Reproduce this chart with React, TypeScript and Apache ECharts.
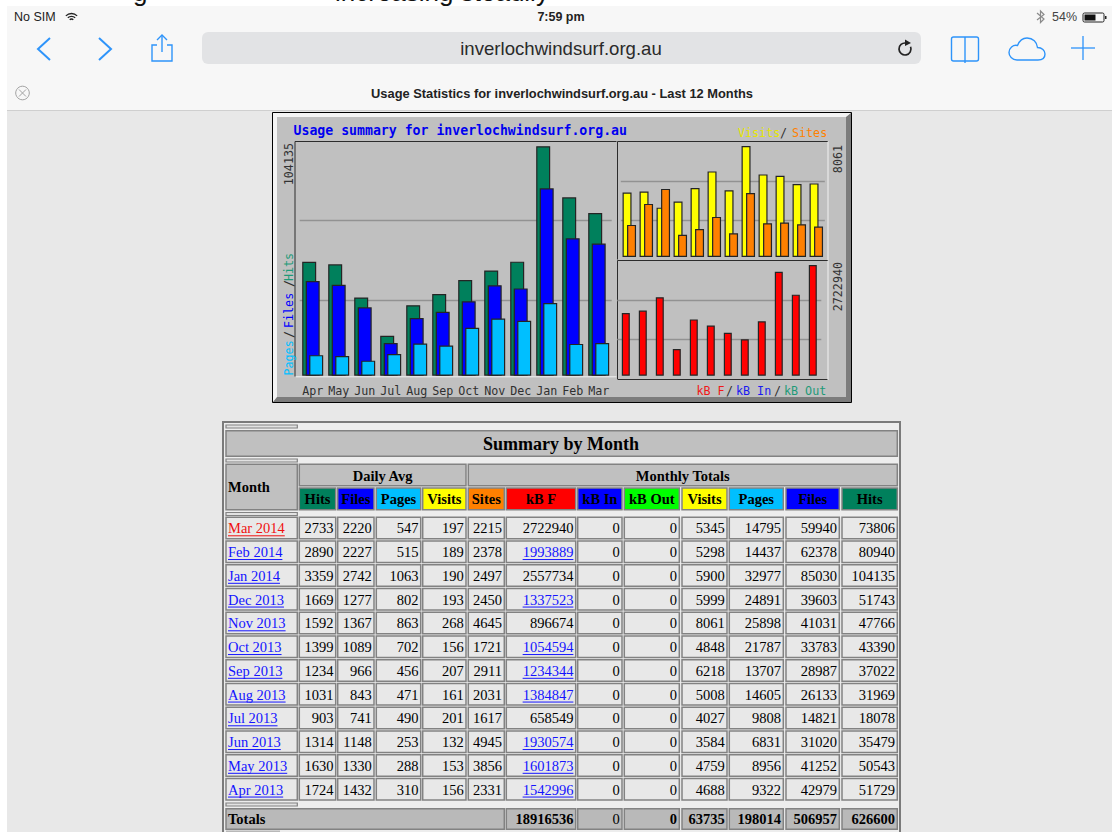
import React, { useEffect, useRef } from "react";
import * as echarts from "echarts";

// Table rows, newest first, as listed in the reference
const monthNames = ["Mar 2014","Feb 2014","Jan 2014","Dec 2013","Nov 2013","Oct 2013","Sep 2013","Aug 2013","Jul 2013","Jun 2013","May 2013","Apr 2013"];
const dailyHits = [2733,2890,3359,1669,1592,1399,1234,1031,903,1314,1630,1724];
const dailyFiles = [2220,2227,2742,1277,1367,1089,966,843,741,1148,1330,1432];
const dailyPages = [547,515,1063,802,863,702,456,471,490,253,288,310];
const dailyVisits = [197,189,190,193,268,156,207,161,201,132,153,156];
const sites = [2215,2378,2497,2450,4645,1721,2911,2031,1617,4945,3856,2331];
const kbF = [2722940,1993889,2557734,1337523,896674,1054594,1234344,1384847,658549,1930574,1601873,1542996];
const kbFLinked = [false,true,false,true,false,true,true,true,false,true,true,true];
const kbIn = [0,0,0,0,0,0,0,0,0,0,0,0];
const kbOut = [0,0,0,0,0,0,0,0,0,0,0,0];
const visits = [5345,5298,5900,5999,8061,4848,6218,5008,4027,3584,4759,4688];
const pages = [14795,14437,32977,24891,25898,21787,13707,14605,9808,6831,8956,9322];
const files = [59940,62378,85030,39603,41031,33783,28987,26133,14821,31020,41252,42979];
const hits = [73806,80940,104135,51743,47766,43390,37022,31969,18078,35479,50543,51729];
const totals = [18916536,0,0,63735,198014,506957,626600];
const chartMonths = ["Apr","May","Jun","Jul","Aug","Sep","Oct","Nov","Dec","Jan","Feb","Mar"];

const C = {
  hits: "#00805C", files: "#0000FF", pages: "#00BFFF", visits: "#FFFF00", sites: "#FF8000",
  kbf: "#FF0000", kbin: "#0000FF", kbout: "#00FF00", panel: "#C0C0C0", page: "#E8E8E8",
  bar: "#242424", grid: "#929292", ios: "#2E94FA", link: "#1414FF",
};
const MONO = "'DejaVu Sans Mono', 'Liberation Mono', monospace";
const SANS = "'Liberation Sans', Arial, sans-serif";
const SERIF = "'Liberation Serif', 'Times New Roman', serif";

echarts.graphic.registerShape("cloud", echarts.graphic.extendPath("M8 22 C3 22 0 18 0 14.5 C0 10 4 6.5 8.5 7.5 C10.5 2.5 14 0 18 0 C24 0 28 4 28.5 9.5 C33 9.5 36 12.5 36 16 C36 20 33 22 29 22 Z", {}));

const measure = (() => {
  const ctx = document.createElement("canvas").getContext("2d")!;
  return (s: string, font: string) => { ctx.font = font; return ctx.measureText(s).width; };
})();

const txt = (text: string, x: number, y: number, font: string, fill: string, align = "left", extra: any = {}) => ({
  type: "text", x, y, z: 6, silent: true, ...extra,
  style: { text, font, fill, align, verticalAlign: "middle" },
});
const rect = (x: number, y: number, w: number, h: number, fill: string, stroke?: string, lineWidth = 0, r = 0, z = 0) => ({
  type: "rect", z, silent: true, shape: { x, y, width: w, height: h, r },
  style: { fill, stroke: stroke || undefined, lineWidth },
});
const line = (x1: number, y1: number, x2: number, y2: number, stroke: string, lineWidth = 1, z = 0) => ({
  type: "line", z, silent: true, shape: { x1, y1, x2, y2 }, style: { stroke, lineWidth },
});
const poly = (points: number[][], stroke: string, lineWidth = 1.5, z = 1) => ({
  type: "polyline", z, silent: true, shape: { points }, style: { stroke, lineWidth, fill: "none" },
});
const polygon = (points: number[][], fill: string, z = 0) => ({
  type: "polygon", z, silent: true, shape: { points }, style: { fill },
});
const arc = (cx: number, cy: number, r: number, s: number, e: number, stroke: string, lineWidth: number) => ({
  type: "arc", z: 1, silent: true, shape: { cx, cy, r, startAngle: s, endAngle: e, clockwise: true },
  style: { stroke, lineWidth, fill: "none" },
});

function chromeElements(): any[] {
  const f12 = `12.5px ${SANS}`;
  const ink = "#222";
  return [
    txt("g", 133, -8, `26px ${SANS}`, "#111"),
    txt("increasing steadily", 335, -8, `26px ${SANS}`, "#111"),
    rect(7, 6, 1105, 105, "#F7F7F7"),
    rect(7, 111, 1105, 721, C.page),
    line(7, 110.5, 1112, 110.5, "#CFCFCF", 1),
    txt("No SIM", 14, 17, f12, ink),
    arc(71.5, 21.5, 2.5, -Math.PI * 0.75, -Math.PI * 0.25, ink, 1.3),
    arc(71.5, 21.5, 5.2, -Math.PI * 0.75, -Math.PI * 0.25, ink, 1.3),
    arc(71.5, 21.5, 8, -Math.PI * 0.75, -Math.PI * 0.25, ink, 1.3),
    txt("7:59 pm", 561, 17, `bold 12.5px ${SANS}`, ink, "center"),
    poly([[1037, 13], [1044, 19], [1040.5, 22.5], [1040.5, 11], [1044, 14.5], [1037, 20]], "#8A8A8A", 1.2),
    txt("54%", 1052, 17, f12, "#444"),
    rect(1083, 13, 21, 9, "none", "#222", 1, 1.5, 1),
    rect(1084.5, 14.5, 11, 6, "#111", undefined, 0, 0, 1),
    rect(1105, 16, 1.5, 3, "#222", undefined, 0, 0, 1),
    poly([[50, 38], [38, 49], [50, 60]], C.ios, 2),
    poly([[99, 38], [111, 49], [99, 60]], C.ios, 2),
    poly([[157, 45], [152, 45], [152, 61], [172, 61], [172, 45], [167, 45]], C.ios, 1.4),
    line(162, 36, 162, 52, C.ios, 1.4, 1),
    poly([[157, 40], [162, 35], [167, 40]], C.ios, 1.4),
    rect(202, 32, 719, 32, "#E2E3E5", undefined, 0, 6),
    txt("inverlochwindsurf.org.au", 561, 48, `18.6px ${SANS}`, "#2A2A2A", "center"),
    arc(905, 49, 6, -Math.PI * 0.12, Math.PI * 1.55, "#222", 1.7),
    polygon([[905, 39.5], [911, 43], [905, 46]], "#222", 1),
    rect(951.5, 37, 27, 24, "none", C.ios, 1.4, 2, 1),
    line(965, 37, 965, 63, C.ios, 1.4, 1),
    { type: "cloud", x: 1009, y: 38, z: 1, silent: true, style: { fill: "none", stroke: C.ios, lineWidth: 1.4 } },
    line(1071, 48, 1095, 48, C.ios, 1.3, 1),
    line(1083, 36, 1083, 60, C.ios, 1.3, 1),
    { type: "circle", z: 1, silent: true, shape: { cx: 22.5, cy: 93, r: 6.8 }, style: { fill: "none", stroke: "#A2A2A2", lineWidth: 1 } },
    line(19, 89.5, 26, 96.5, "#A2A2A2", 1, 1),
    line(26, 89.5, 19, 96.5, "#A2A2A2", 1, 1),
    txt("Usage Statistics for inverlochwindsurf.org.au - Last 12 Months", 562, 93, `bold 12.85px ${SANS}`, "#222", "center"),
  ];
}

function panelElements(): any[] {
  const f = `11.7px ${MONO}`;
  const rot = { rotation: Math.PI / 2 };
  const slash = "#303030";
  const vertical = (text: string, y: number, fill: string, align = "left") => txt(text, 289, y, f, fill, align, rot);
  return [
    rect(272.5, 112.5, 579, 290, C.panel),
    polygon([[273, 113], [851, 113], [847, 117], [277, 117], [277, 398], [273, 402]], "#F4F4F4"),
    polygon([[851, 113], [851, 402], [273, 402], [277, 397], [846, 397], [846, 117]], "#7C7C7C"),
    rect(272.5, 112.5, 579, 290, "none", "#000", 1, 0, 1),
    // plot frames
    poly([[295, 376.5], [295, 141.5], [616.5, 141.5]], "#2C2C2C", 1, 1),
    poly([[295.8, 376.8], [616.5, 376.8]], "#F2F2F2", 1, 1),
    poly([[617.5, 259.5], [617.5, 141.5], [828, 141.5]], "#2C2C2C", 1, 1),
    poly([[828, 141.5], [828, 260]], "#F2F2F2", 1, 1),
    poly([[617.5, 379], [617.5, 260.5], [828, 260.5]], "#2C2C2C", 1, 1),
    poly([[617.5, 379.5], [828, 379.5]], "#2C2C2C", 1, 1),
    poly([[828, 260.5], [828, 380]], "#F2F2F2", 1, 1),
    // texts
    txt("Usage summary for inverlochwindsurf.org.au", 293.5, 130, `bold 13.2px ${MONO}`, "#0000F0"),
    txt(String(Math.max(...hits)), 289, 143, f, "#333", "right", rot),
    txt(String(Math.max(...visits)), 838, 145, f, "#333", "right", rot),
    txt(String(Math.max(...kbF)), 838, 262, f, "#333", "right", rot),
    vertical("Pages", 375.5, C.pages),
    vertical("/", 338, slash),
    vertical("Files", 328, C.files),
    vertical("/", 287, slash),
    vertical("Hits", 281, "#1E9A78"),
    txt("Visits", 738, 132.5, f, "#E6E600"),
    txt("/", 780, 132.5, f, slash),
    txt("Sites", 792, 132.5, f, C.sites),
    txt("kB F", 696.5, 390.5, f, "#F01818"),
    txt("/", 726, 390.5, f, slash),
    txt("kB In", 736, 390.5, f, "#1A1AF0"),
    txt("/", 774, 390.5, f, slash),
    txt("kB Out", 784, 390.5, f, "#1E9A78"),
  ];
}

function tableElements(): any[] {
  const out: any[] = [];
  const norm = `14.5px ${SERIF}`;
  const bold = `bold 14.5px ${SERIF}`;
  const border = "#828282";
  const cell = (x0: number, x1: number, y0: number, y1: number, fill: string) =>
    out.push(rect(x0, y0, x1 - x0, y1 - y0, fill, border, 1.5, 0, 1));
  // outer table
  out.push(rect(223, 422, 677, 420, "#EDEDED", "#7A7A7A", 2, 0, 0));
  // columns: left and right edges
  const colX = [[299.3,335.7],[337.7,374],[376.3,420.7],[422.7,466],[468.3,504.3],[506.3,575.7],[577.7,622],[624.3,679.3],[682,727],[729.3,783.3],[786,839.3],[842,897.3]];
  const monthX = [226, 297.3];
  const headers = ["Hits","Files","Pages","Visits","Sites","kB F","kB In","kB Out","Visits","Pages","Files","Hits"];
  const headerFill = [C.hits,C.files,C.pages,C.visits,C.sites,C.kbf,C.kbin,C.kbout,C.visits,C.pages,C.files,C.hits];
  const columns = [dailyHits,dailyFiles,dailyPages,dailyVisits,sites,kbF,kbIn,kbOut,visits,pages,files,hits];

  const sep = (y: number) => out.push(rect(226, y, 71.3, 3, "#E2E2E2", border, 1.2, 0, 1));
  sep(425); sep(459); sep(512.5); sep(803);
  out.push(rect(226, 830.5, 54, 3, "#B8B8B8", undefined, 0, 0, 1));

  cell(226, 897.3, 430.7, 456.3, C.panel);
  out.push(txt("Summary by Month", 561, 444, `bold 18px ${SERIF}`, "#000", "center"));
  cell(monthX[0], monthX[1], 464.3, 509.7, C.panel);
  out.push(txt("Month", 228, 487, bold, "#000"));
  cell(299.3, 466, 464.3, 485.7, C.panel);
  out.push(txt("Daily Avg", 382.6, 475.5, bold, "#000", "center"));
  cell(468.3, 897.3, 464.3, 485.7, C.panel);
  out.push(txt("Monthly Totals", 682.8, 475.5, bold, "#000", "center"));
  headers.forEach((h, c) => {
    const [x0, x1] = colX[c];
    cell(x0, x1, 488, 509.7, headerFill[c]);
    out.push(txt(h, (x0 + x1) / 2, 499, bold, "#000", "center"));
  });

  monthNames.forEach((m, r) => {
    const y0 = 517.3 + 23.75 * r;
    const y1 = y0 + 21.4;
    const yc = y0 + 11;
    const monthColor = r === 0 ? "#F01010" : C.link;
    cell(monthX[0], monthX[1], y0, y1, C.page);
    out.push(txt(m, 228, yc, norm, monthColor));
    out.push(line(228, yc + 7.5, 228 + measure(m, norm), yc + 7.5, monthColor, 1, 2));
    colX.forEach(([x0, x1], c) => {
      cell(x0, x1, y0, y1, C.page);
      const s = String(columns[c][r]);
      const linked = c === 5 && kbFLinked[r];
      out.push(txt(s, x1 - 2.3, yc, norm, linked ? C.link : "#000", "right"));
      if (linked) out.push(line(x1 - 2.3 - measure(s, norm), yc + 7.5, x1 - 2.3, yc + 7.5, C.link, 1, 2));
    });
  });

  const ty0 = 808.7, ty1 = 829.3, tc = 819;
  const totalFill = "#B9B9B9";
  cell(226, 504.3, ty0, ty1, totalFill);
  out.push(txt("Totals", 228, tc, bold, "#000"));
  totals.forEach((v, i) => {
    const [x0, x1] = colX[i + 5];
    cell(x0, x1, ty0, ty1, totalFill);
    out.push(txt(String(v), x1 - 2.3, tc, i === 1 ? norm : bold, "#000", "right"));
  });
  return out;
}

const chrono = (a: number[]) => [...a].reverse();
const barSeries = (name: string, data: number[], color: string, idx: number, barWidth: number, barGap: string, borderWidth = 1.2) => ({
  name, type: "bar", data, xAxisIndex: idx, yAxisIndex: idx, barWidth, barGap, silent: true,
  itemStyle: { color, borderColor: C.bar, borderWidth },
});
const yAxis = (gridIndex: number, max: number, marks: number[]) => ({
  type: "value", gridIndex, min: 0, max, z: 1,
  axisLine: { show: false }, axisLabel: { show: false },
  axisTick: { show: false, customValues: marks },
  splitLine: { show: true, lineStyle: { color: C.grid, width: 1.3 } },
});
const xAxis = (gridIndex: number, label: boolean) => ({
  type: "category", gridIndex, data: chartMonths,
  axisLine: { show: false }, axisTick: { show: false },
  axisLabel: label ? { show: true, interval: 0, margin: 9, color: "#303030", fontFamily: MONO, fontSize: 11.7 } : { show: false },
});

export default function App() {
  const ref = useRef<HTMLDivElement>(null);
  useEffect(() => {
    document.body.style.margin = "0";
    const chart = echarts.init(ref.current!, undefined, { renderer: "svg" });
    chart.setOption({
      animation: false,
      backgroundColor: "#FFFFFF",
      graphic: { elements: [...chromeElements(), ...panelElements(), ...tableElements()] },
      grid: [
        { left: 299.7, top: 142, width: 312, height: 233.7 },
        { left: 620.8, top: 142, width: 204, height: 115 },
        { left: 617.3, top: 260.7, width: 204, height: 115 },
      ],
      xAxis: [xAxis(0, true), xAxis(1, false), xAxis(2, false)],
      yAxis: [
        yAxis(0, 106040, [34260, 70560]),
        yAxis(1, 8352, [2665, 5519]),
        yAxis(2, 2829000, [903000, 1862000]),
      ],
      series: [
        barSeries("Hits", chrono(hits), C.hits, 0, 14, "-75%"),
        barSeries("Files", chrono(files), C.files, 0, 14, "-75%"),
        barSeries("Pages", chrono(pages), C.pages, 0, 14, "-75%"),
        barSeries("Visits", chrono(visits), C.visits, 1, 9, "-50%"),
        barSeries("Sites", chrono(sites), C.sites, 1, 9, "-50%"),
        barSeries("kB F", chrono(kbF), C.kbf, 2, 8, "0%"),
      ],
    });
    return () => chart.dispose();
  }, []);
  return <div ref={ref} style={{ position: "fixed", left: 0, top: 0, width: 1112, height: 832 }} />;
}
